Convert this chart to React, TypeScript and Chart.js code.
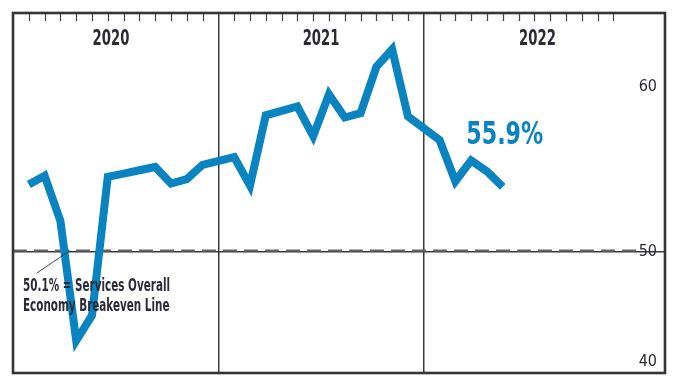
import React, { useEffect, useRef } from "react";
import { Chart, registerables } from "chart.js";

Chart.register(...registerables);

// ---- Data ----
const years = ["2020", "2021", "2022"];
const months = ["Jan", "Feb", "Mar", "Apr", "May", "Jun", "Jul", "Aug", "Sep", "Oct", "Nov", "Dec"];
const values2020 = [56.1, 56.9, 52.8, 41.9, 44.2, 56.8, 57.1, 57.4, 57.7, 56.2, 56.6, 57.9];
const values2021 = [58.6, 56.0, 62.4, 62.8, 63.2, 60.5, 64.3, 62.2, 62.6, 66.8, 68.4, 62.3];
const values2022 = [60.15, 56.4, 58.3, 57.3, 55.9];
const breakevenValue = 50.1;
const latestLabel = "55.9%";
const breakevenNote = ["50.1% = Services Overall", "Economy Breakeven Line"];
const yTickValues = [40, 50, 65];
const yTickLabels = ["40", "50", "60"];

// ---- Layout helpers (13 slots per year: 12 months + a gap at the year divider) ----
const SLOTS_PER_YEAR = 13;
const seriesByYear = [values2020, values2021, values2022];
const points = seriesByYear.flatMap((arr, yi) =>
  arr.map((v, m) => ({ x: yi * SLOTS_PER_YEAR + m + 1, y: v, label: `${months[m]} ${years[yi]}` }))
);

const FONT = '"Liberation Sans Narrow", "DejaVu Sans Condensed", "Arial Narrow", sans-serif';
const DARK = "#2b2b36";
const BLUE = "#0a84c1";

function drawSquished(ctx: any, text: string, x: number, y: number, font: string, sx: number, align: string) {
  ctx.save();
  ctx.font = font;
  const w = ctx.measureText(text).width * sx;
  let left = x;
  if (align === "center") left = x - w / 2;
  else if (align === "right") left = x - w;
  ctx.translate(left, y);
  ctx.scale(sx, 1);
  ctx.textAlign = "left";
  ctx.textBaseline = "alphabetic";
  ctx.fillText(text, 0, 0);
  ctx.restore();
}

const decorPlugin = {
  id: "decor",
  afterDatasetsDraw(chart: any) {
    const { ctx, chartArea } = chart;
    const xs = chart.scales.x;
    const ys = chart.scales.y;
    ctx.save();

    // month tick marks along the top
    ctx.strokeStyle = "#444";
    ctx.lineWidth = 1.2;
    years.forEach((_, yi) => {
      months.forEach((__, m) => {
        const px = Math.round(xs.getPixelForValue(yi * SLOTS_PER_YEAR + m + 1)) + 0.5;
        ctx.beginPath();
        ctx.moveTo(px, chartArea.top);
        ctx.lineTo(px, chartArea.top + 8);
        ctx.stroke();
      });
    });

    // year labels
    const yearSlots = [6.2, 19.5, 33.2];
    ctx.fillStyle = DARK;
    years.forEach((y, i) => {
      drawSquished(ctx, y, xs.getPixelForValue(yearSlots[i]), chartArea.top + 32, `bold 21px ${FONT}`, 0.7, "center");
    });

    // latest value label
    const last = points[points.length - 1];
    ctx.fillStyle = BLUE;
    drawSquished(ctx, latestLabel, xs.getPixelForValue(last.x) + 2, ys.getPixelForValue(last.y) - 43, `bold 32px ${FONT}`, 0.77, "center");

    // breakeven note + leader line
    ctx.strokeStyle = "#333";
    ctx.lineWidth = 0.9;
    ctx.beginPath();
    ctx.moveTo(xs.getPixelForValue(1.5), ys.getPixelForValue(48.05));
    ctx.lineTo(xs.getPixelForValue(3.6), ys.getPixelForValue(breakevenValue));
    ctx.stroke();

    ctx.fillStyle = DARK;
    breakevenNote.forEach((t, i) => {
      drawSquished(ctx, t, chartArea.left + 10, 291 + i * 19.5, `bold 17px ${FONT}`, 0.68, "left");
    });

    // frame
    ctx.strokeStyle = "#333338";
    ctx.lineWidth = 2.6;
    ctx.strokeRect(chartArea.left, chartArea.top, chartArea.right - chartArea.left, chartArea.bottom - chartArea.top);
    ctx.restore();
  },
};

function App() {
  const canvasRef = useRef<HTMLCanvasElement | null>(null);

  useEffect(() => {
    document.body.style.margin = "0";
    const canvas = canvasRef.current;
    if (!canvas) return;
    const chart = new Chart(canvas, {
      type: "line",
      data: {
        datasets: [
          {
            label: "Services PMI",
            data: points,
            borderColor: BLUE,
            borderWidth: 8,
            borderJoinStyle: "miter",
            borderCapStyle: "butt",
            pointRadius: 0,
            tension: 0,
            fill: false,
            order: 0,
          },
          {
            label: "Breakeven",
            data: [
              { x: 0, y: breakevenValue },
              { x: 39.8, y: breakevenValue },
            ],
            borderColor: "#666",
            borderWidth: 2,
            borderDash: [14, 7],
            pointRadius: 0,
            fill: false,
            order: 1,
          },
        ],
      },
      options: {
        animation: false,
        responsive: false,
        devicePixelRatio: 1,
        layout: { padding: { left: 13, top: 13, right: 12, bottom: 16 } },
        plugins: {
          legend: { display: false },
          tooltip: { enabled: false },
        },
        scales: {
          x: {
            type: "linear",
            min: 0,
            max: 41.27,
            afterBuildTicks: (s: any) => {
              s.ticks = [{ value: SLOTS_PER_YEAR }, { value: SLOTS_PER_YEAR * 2 }];
            },
            afterFit: (s: any) => {
              s.height = 0;
            },
            ticks: { display: false },
            grid: { color: "#3a3a42", lineWidth: 1.5, drawTicks: false },
            border: { display: false },
          },
          y: {
            type: "linear",
            position: "right",
            min: 38.97,
            max: 71.7,
            afterBuildTicks: (s: any) => {
              s.ticks = yTickValues.map((v) => ({ value: v }));
            },
            afterFit: (s: any) => {
              s.width = 0;
            },
            ticks: {
              mirror: true,
              padding: -8,
              color: DARK,
              font: { family: FONT, size: 16 },
              callback: (_v: any, i: number) => yTickLabels[i] ?? "",
            },
            grid: {
              color: (c: any) => (c.tick && c.tick.value === 50 ? "#3a3a42" : "rgba(0,0,0,0)"),
              lineWidth: 1.5,
              drawTicks: false,
            },
            border: { display: false },
          },
        },
      },
      plugins: [decorPlugin],
    });
    return () => chart.destroy();
  }, []);

  return (
    <div style={{ width: 677, height: 389, background: "#fff" }}>
      <canvas ref={canvasRef} width={677} height={389} style={{ display: "block" }} />
    </div>
  );
}

export default App;
